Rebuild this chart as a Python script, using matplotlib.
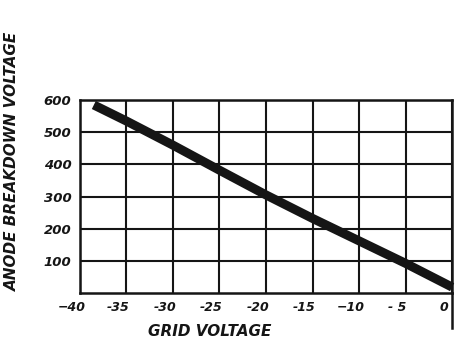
import matplotlib
matplotlib.use("Agg")
import matplotlib.pyplot as plt
import matplotlib.transforms as mtransforms

# grid voltage vs anode breakdown voltage
grid_v = [-38.5, -35, -30, -25, -20, -15, -10, -5, 0]
anode_v = [585, 535, 460, 382, 305, 232, 162, 92, 18]

xticks = [-40, -35, -30, -25, -20, -15, -10, -5, 0]
xlabels = ["\u221240", "-35", "-30", "-25", "-20", "-15", "\u221210", "- 5", "0"]
yticks = [100, 200, 300, 400, 500, 600]
ylabels = ["100", "200", "300", "400", "500", "600"]

ink = "#151515"
font = dict(family="DejaVu Sans", fontweight="bold", fontstyle="italic", color=ink)

fig = plt.figure(figsize=(4.59, 3.43), dpi=100)
ax = fig.add_axes([0.174, 0.146, 0.811, 0.562])

ax.set_xlim(-40, 0)
ax.set_ylim(0, 600)
ax.set_xticks(xticks)
ax.set_yticks(yticks)
ax.set_xticklabels(xlabels, fontsize=9, **font)
ax.set_yticklabels(ylabels, fontsize=9.5, **font)
ax.tick_params(length=0, pad=6)

ax.grid(True, color=ink, linewidth=1.5)
for s in ax.spines.values():
    s.set_color(ink)
    s.set_linewidth(1.8)

# shift x labels a little to the left like the hand lettering
off = mtransforms.ScaledTranslation(-8 / 100, 0, fig.dpi_scale_trans)
for lab in ax.get_xticklabels():
    lab.set_transform(lab.get_transform() + off)

# the zero line runs on below the frame
ax.plot([0, 0], [0, -110], color=ink, linewidth=1.8, clip_on=False)

ax.plot(grid_v, anode_v, color=ink, linewidth=6.5, solid_capstyle="butt", clip_on=False)

ax.set_xlabel("GRID VOLTAGE", fontsize=11, **font)
ax.xaxis.set_label_coords(0.35, -0.16)
ax.set_ylabel("ANODE BREAKDOWN VOLTAGE", fontsize=11, **font)
ax.yaxis.set_label_coords(-0.16, 0.68)

fig.savefig("out.png", dpi=100)
